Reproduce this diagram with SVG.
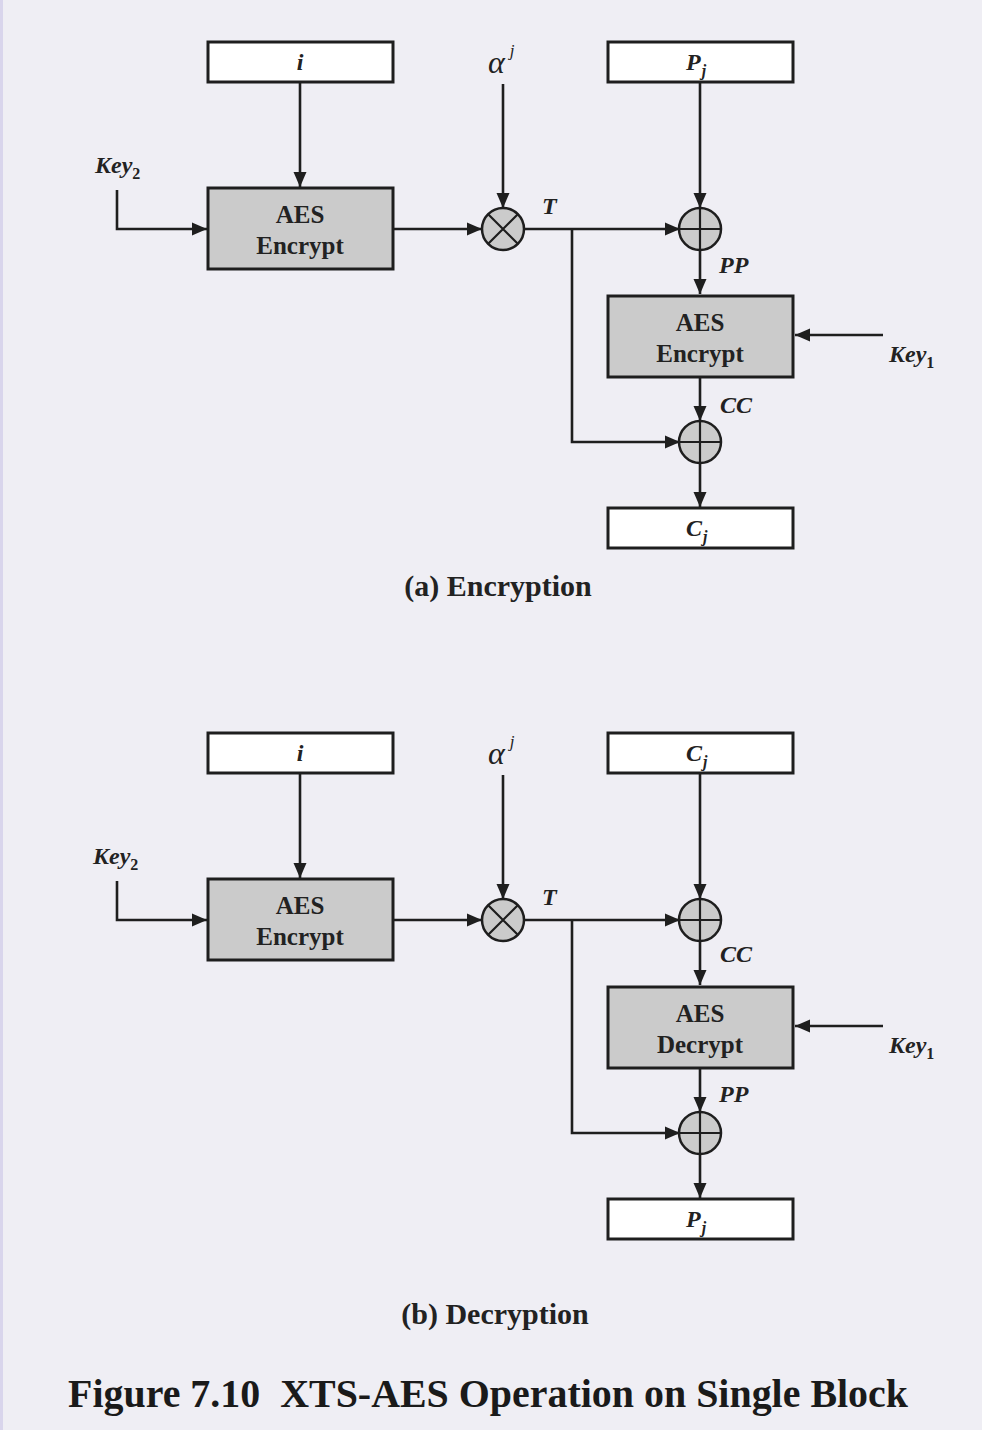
<svg xmlns="http://www.w3.org/2000/svg" width="982" height="1430" viewBox="0 0 982 1430">
<style>
.bg{fill:#efeef4}
.box{fill:#ffffff;stroke:#1e1e1e;stroke-width:3}
.gbox{fill:#cbcbcb;stroke:#1e1e1e;stroke-width:3}
.op{fill:#cbcbcb;stroke:#1e1e1e;stroke-width:2.5}
.opl{stroke:#1e1e1e;stroke-width:2.2;fill:none}
.wire{stroke:#1e1e1e;stroke-width:2.6;fill:none}
.arr{marker-end:url(#ah)}
.bt{font-family:"Liberation Serif",serif;font-weight:bold;font-size:25px;fill:#222;text-anchor:middle}
.lb{font-family:"Liberation Serif",serif;font-weight:bold;font-style:italic;font-size:24px;fill:#222}
.sub{font-weight:bold;font-style:normal;font-size:16px}
.subi{font-size:16px}
.al{font-family:"Liberation Serif",serif;font-style:italic;font-size:32px;fill:#222}
.alj{font-size:17px}
.cap{font-family:"Liberation Serif",serif;font-weight:bold;font-size:30px;fill:#222;text-anchor:middle}
.title{font-family:"Liberation Serif",serif;font-weight:bold;font-size:41px;fill:#1a1a1a}
</style>
<defs>
<marker id="ah" markerUnits="userSpaceOnUse" markerWidth="16" markerHeight="14" refX="15" refY="7" orient="auto">
<path d="M0,0.5 L15,7 L0,13.5 z" fill="#1e1e1e"/>
</marker>
<g id="mul">
<circle r="21" class="op"/>
<path d="M-14.8,-14.8 L14.8,14.8 M-14.8,14.8 L14.8,-14.8" class="opl"/>
</g>
<g id="xor">
<circle r="21" class="op"/>
<path d="M-21,0 H21 M0,-21 V21" class="opl"/>
</g>
</defs>
<rect class="bg" x="0" y="0" width="982" height="1430"/>
<rect x="0" y="0" width="3" height="1430" fill="#d9d5ec"/>

<!-- (a) Encryption -->
<g id="connectors-a">
<path class="wire arr" d="M300,82 V187"/>
<path class="wire arr" d="M117,190 V229 H207"/>
<path class="wire arr" d="M393,229 H482"/>
<path class="wire arr" d="M503,84 V208"/>
<path class="wire arr" d="M524,229 H680"/>
<path class="wire arr" d="M700,82 V208"/>
<path class="wire arr" d="M572,229 V442 H680"/>
<path class="wire arr" d="M700,250 V294"/>
<path class="wire arr" d="M883,335 H795"/>
<path class="wire arr" d="M700,377 V421"/>
<path class="wire arr" d="M700,463 V507"/>
</g>
<g id="a-i"><rect class="box" x="208" y="42" width="185" height="40"/><text class="lb" x="300" y="70" text-anchor="middle">i</text></g>
<g id="a-key2"><text class="lb" x="95" y="173">Key<tspan class="sub" dy="6">2</tspan></text></g>
<g id="a-aes1"><rect class="gbox" x="208" y="188" width="185" height="81"/><text class="bt" x="300" y="223">AES</text><text class="bt" x="300" y="254">Encrypt</text></g>
<g id="a-alpha"><text class="al" x="488" y="73">α<tspan class="alj" dx="5" dy="-17">j</tspan></text></g>
<g id="a-mul"><use href="#mul" x="503" y="229"/></g>
<g id="a-T"><text class="lb" x="542" y="214">T</text></g>
<g id="a-pj"><rect class="box" x="608" y="42" width="185" height="40"/><text class="lb" x="686" y="70">P<tspan class="subi" dx="1" dy="6">j</tspan></text></g>
<g id="a-xor1"><use href="#xor" x="700" y="229"/></g>
<g id="a-PP"><text class="lb" x="719" y="273">PP</text></g>
<g id="a-aes2"><rect class="gbox" x="608" y="296" width="185" height="81"/><text class="bt" x="700" y="331">AES</text><text class="bt" x="700" y="362">Encrypt</text></g>
<g id="a-key1"><text class="lb" x="889" y="362">Key<tspan class="sub" dy="6">1</tspan></text></g>
<g id="a-CC"><text class="lb" x="720" y="413">CC</text></g>
<g id="a-xor2"><use href="#xor" x="700" y="442"/></g>
<g id="a-cj"><rect class="box" x="608" y="508" width="185" height="40"/><text class="lb" x="686" y="536">C<tspan class="subi" dx="1" dy="6">j</tspan></text></g>
<text class="cap" x="498" y="596">(a) Encryption</text>

<!-- (b) Decryption -->
<g id="connectors-b">
<path class="wire arr" d="M300,773 V878"/>
<path class="wire arr" d="M117,881 V920 H207"/>
<path class="wire arr" d="M393,920 H482"/>
<path class="wire arr" d="M503,775 V899"/>
<path class="wire arr" d="M524,920 H680"/>
<path class="wire arr" d="M700,773 V899"/>
<path class="wire arr" d="M572,920 V1133 H680"/>
<path class="wire arr" d="M700,941 V985"/>
<path class="wire arr" d="M883,1026 H795"/>
<path class="wire arr" d="M700,1068 V1112"/>
<path class="wire arr" d="M700,1154 V1198"/>
</g>
<g id="b-i"><rect class="box" x="208" y="733" width="185" height="40"/><text class="lb" x="300" y="761" text-anchor="middle">i</text></g>
<g id="b-key2"><text class="lb" x="93" y="864">Key<tspan class="sub" dy="6">2</tspan></text></g>
<g id="b-aes1"><rect class="gbox" x="208" y="879" width="185" height="81"/><text class="bt" x="300" y="914">AES</text><text class="bt" x="300" y="945">Encrypt</text></g>
<g id="b-alpha"><text class="al" x="488" y="764">α<tspan class="alj" dx="5" dy="-17">j</tspan></text></g>
<g id="b-mul"><use href="#mul" x="503" y="920"/></g>
<g id="b-T"><text class="lb" x="542" y="905">T</text></g>
<g id="b-cj"><rect class="box" x="608" y="733" width="185" height="40"/><text class="lb" x="686" y="761">C<tspan class="subi" dx="1" dy="6">j</tspan></text></g>
<g id="b-xor1"><use href="#xor" x="700" y="920"/></g>
<g id="b-CC"><text class="lb" x="720" y="962">CC</text></g>
<g id="b-aes2"><rect class="gbox" x="608" y="987" width="185" height="81"/><text class="bt" x="700" y="1022">AES</text><text class="bt" x="700" y="1053">Decrypt</text></g>
<g id="b-key1"><text class="lb" x="889" y="1053">Key<tspan class="sub" dy="6">1</tspan></text></g>
<g id="b-PP"><text class="lb" x="719" y="1102">PP</text></g>
<g id="b-xor2"><use href="#xor" x="700" y="1133"/></g>
<g id="b-pj"><rect class="box" x="608" y="1199" width="185" height="40"/><text class="lb" x="686" y="1227">P<tspan class="subi" dx="1" dy="6">j</tspan></text></g>
<text class="cap" x="495" y="1324">(b) Decryption</text>

<text class="title" x="68" y="1407" textLength="840" lengthAdjust="spacingAndGlyphs" xml:space="preserve">Figure 7.10  XTS-AES Operation on Single Block</text>
</svg>
